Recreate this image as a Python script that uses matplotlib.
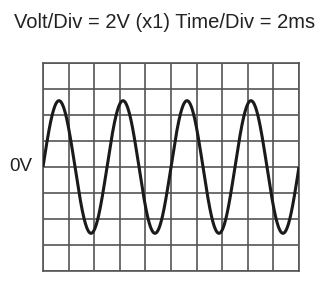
"""
Oscilloscope screen: a sine trace on a 10 x 8 division graticule.
"""

import numpy as np
import matplotlib
matplotlib.use("Agg")
import matplotlib.pyplot as plt

# =============================================================================
# SCOPE SETTINGS / SIGNAL
# =============================================================================
VOLT_PER_DIV = 2.0      # V
TIME_PER_DIV = 2.0      # ms
H_DIVS = 10
V_DIVS = 8

AMPLITUDE_V = 5.1       # peak (~2.55 div)
PERIOD_MS = 5.0         # 2.5 div per cycle -> 4 cycles on screen

TITLE = "Volt/Div = 2V (x1) Time/Div = 2ms"
ZERO_LABEL = "0V"

plt.rcParams["font.family"] = ["Liberation Sans", "DejaVu Sans"]

fig = plt.figure(figsize=(3.29, 2.83), dpi=100)
ax = fig.add_axes([0.1307, 0.0424, 0.778, 0.735])

t_max = H_DIVS * TIME_PER_DIV
v_max = V_DIVS / 2 * VOLT_PER_DIV
t = np.linspace(0, t_max, 800)
v = AMPLITUDE_V * np.sin(2 * np.pi * t / PERIOD_MS)

ax.plot(t, v, color="#1a1a1a", lw=2.2, solid_capstyle="butt", zorder=3)

ax.set_xlim(0, t_max)
ax.set_ylim(-v_max, v_max)
ax.set_xticks(np.arange(0, t_max + 0.01, TIME_PER_DIV))
ax.set_yticks(np.arange(-v_max, v_max + 0.01, VOLT_PER_DIV))
ax.tick_params(length=0, labelbottom=False, labelleft=False)
ax.grid(True, color="#555555", lw=1.2)
for s in ax.spines.values():
    s.set_color("#555555")
    s.set_linewidth(1.2)

fig.text(0.5, 0.919, TITLE, ha="center", va="center", fontsize=14.5, color="#222222")
ax.text(-0.043, 0.5, ZERO_LABEL, transform=ax.transAxes, ha="right", va="center",
        fontsize=13.5, color="#222222")

fig.savefig("out.png", dpi=100)
